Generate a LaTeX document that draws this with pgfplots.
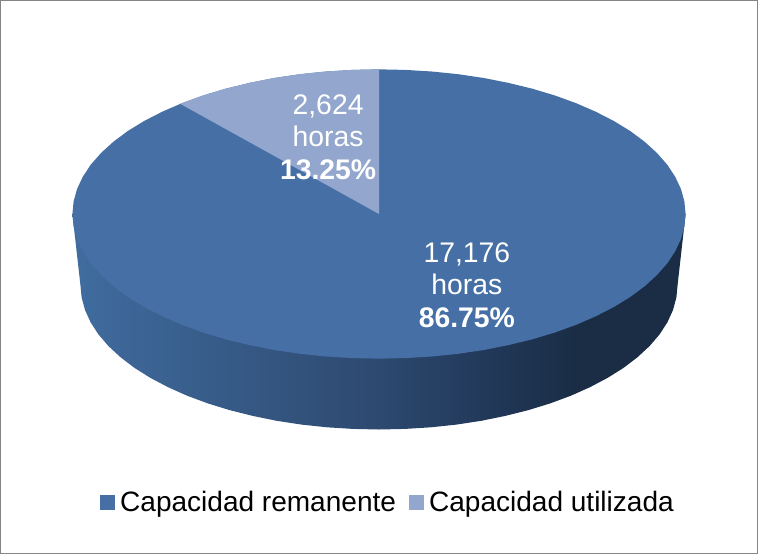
\documentclass[border=0pt]{standalone}
\usepackage{pgfplots}
\pgfplotsset{compat=1.18}
\usepackage{fontspec}
\setmainfont{Liberation Sans}
\definecolor{topblue}{HTML}{456FA5}
\definecolor{lightblue}{HTML}{93A7CE}
\definecolor{sideA}{HTML}{406C9F}
\definecolor{sideB}{HTML}{2D496F}
\definecolor{sideBB}{HTML}{213859}
\definecolor{sideC}{HTML}{1A2D45}
\pgfdeclarehorizontalshading{sideshade}{100bp}{color(0bp)=(sideA); color(25bp)=(sideA); color(50bp)=(sideB); color(59bp)=(sideBB); color(66bp)=(sideC); color(75bp)=(sideC); color(100bp)=(sideC)}
\begin{document}
\begin{tikzpicture}
\begin{axis}[
  scale only axis, width=756pt, height=552pt,
  xmin=-379, xmax=379, ymin=-340, ymax=214,
  xtick=\empty, ytick=\empty,
  axis line style={draw=black!48, line width=1pt},
  legend columns=2,
  legend style={at={(axis cs:9,-289)}, anchor=center, draw=none, fill=none,
    font=\fontsize{28}{33}\selectfont, inner sep=0pt,
    /tikz/every even column/.append style={column sep=11pt}},
  legend image code/.code={\path[#1,draw=none] (0pt,-7.5pt) rectangle (15pt,7.5pt); \path (18pt,0pt);},
]
% side wall
\addplot[forget plot, draw=none, shading=sideshade] coordinates {
(-307,0)(-299,-71)(-297.8,-83.6)(-294.4,-96.2)(-288.8,-108.5)(-281,-120.6)(-271,-132.3)(-258.9,-143.5)(-244.9,-154.2)(-229,-164.2)(-211.4,-173.5)(-192.2,-182.1)(-171.5,-189.8)(-149.5,-196.6)(-126.3,-202.4)(-102.3,-207.3)(-77.4,-211.1)(-51.9,-213.8)(-26.1,-215.4)(0,-216)
(26.1,-215.4)(51.9,-213.8)(77.4,-211.1)(102.3,-207.3)(126.3,-202.4)(149.5,-196.6)(171.5,-189.8)(192.2,-182.1)(211.4,-173.5)(229,-164.2)(244.9,-154.2)(258.9,-143.5)(271,-132.3)(281,-120.6)(288.8,-108.5)(294.4,-96.2)(297.8,-83.6)(299,-71)(307,0)(-307,0)};
% top face: Capacidad remanente
\addplot[fill=topblue, draw=none] coordinates {
(307,0)(305.8,12.6)(302.3,25.2)(296.5,37.5)(288.5,49.6)(278.2,61.3)(265.9,72.5)(251.5,83.2)(235.2,93.2)(217.1,102.5)(197.3,111.1)(176.1,118.8)(153.5,125.6)(129.7,131.4)(105,136.3)(79.5,140.1)(53.3,142.8)(26.8,144.4)(0,145)
(-26.8,144.4)(-53.3,142.8)(-79.5,140.1)(-105,136.3)(-129.7,131.4)(-153.5,125.6)(-176.1,118.8)(-197.3,111.1)(-217.1,102.5)(-235.2,93.2)(-251.5,83.2)(-265.9,72.5)(-278.2,61.3)(-288.5,49.6)(-296.5,37.5)(-302.3,25.2)(-305.8,12.6)(-307,0)
(-305.8,-12.6)(-302.3,-25.2)(-296.5,-37.5)(-288.5,-49.6)(-278.2,-61.3)(-265.9,-72.5)(-251.5,-83.2)(-235.2,-93.2)(-217.1,-102.5)(-197.3,-111.1)(-176.1,-118.8)(-153.5,-125.6)(-129.7,-131.4)(-105,-136.3)(-79.5,-140.1)(-53.3,-142.8)(-26.8,-144.4)(0,-145)
(26.8,-144.4)(53.3,-142.8)(79.5,-140.1)(105,-136.3)(129.7,-131.4)(153.5,-125.6)(176.1,-118.8)(197.3,-111.1)(217.1,-102.5)(235.2,-93.2)(251.5,-83.2)(265.9,-72.5)(278.2,-61.3)(288.5,-49.6)(296.5,-37.5)(302.3,-25.2)(305.8,-12.6)(307,0)};
\addlegendentry{Capacidad remanente}
% top face: Capacidad utilizada
\addplot[fill=lightblue, draw=none] coordinates {
(0,0)(0,145)(-26.8,144.4)(-53.3,142.8)(-79.5,140.1)(-105,136.3)(-129.7,131.4)(-153.5,125.6)(-176.1,118.8)(-199,110.4)(0,0)};
\addlegendentry{Capacidad utilizada}
\node[text=white, align=center, font=\fontsize{28.3}{32.5}\selectfont] at (axis cs:88,-71) {17,176\\horas\\\textbf{86.75\%}};
\node[text=white, align=center, font=\fontsize{28.3}{32.5}\selectfont] at (axis cs:-51,77) {2,624\\horas\\\textbf{13.25\%}};
\end{axis}
\end{tikzpicture}
\end{document}
